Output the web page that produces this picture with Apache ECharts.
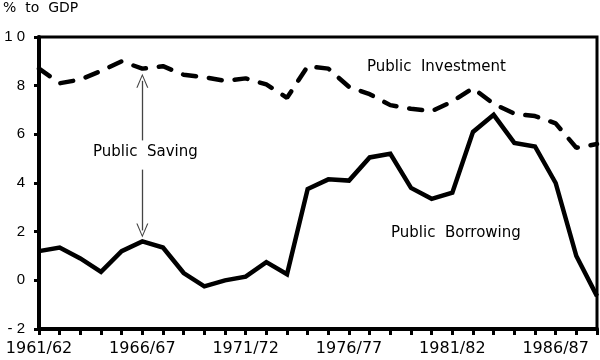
<!DOCTYPE html>
<html>
<head>
<meta charset="utf-8">
<script src="https://cdn.jsdelivr.net/npm/echarts@6/dist/echarts.min.js"></script>
<style>html,body{margin:0;padding:0;background:#fff;}#c{width:600px;height:360px;}</style>
</head>
<body>
<div id="c"></div>
<script>
var categories = ['1961/62','1962/63','1963/64','1964/65','1965/66','1966/67','1967/68','1968/69','1969/70','1970/71','1971/72','1972/73','1973/74','1974/75','1975/76','1976/77','1977/78','1978/79','1979/80','1980/81','1981/82','1982/83','1983/84','1984/85','1985/86','1986/87','1987/88','1988/89'];
var publicInvestment = [8.7, 8.1, 8.25, 8.6, 9.0, 8.7, 8.8, 8.45, 8.35, 8.2, 8.3, 8.05, 7.5, 8.8, 8.7, 7.95, 7.65, 7.2, 7.05, 6.95, 7.35, 7.9, 7.25, 6.85, 6.75, 6.45, 5.45, 5.6];
var publicBorrowing = [1.2, 1.35, 0.9, 0.35, 1.2, 1.6, 1.35, 0.3, -0.25, 0.0, 0.15, 0.75, 0.25, 3.75, 4.15, 4.1, 5.05, 5.2, 3.8, 3.35, 3.6, 6.1, 6.8, 5.65, 5.5, 4.0, 1.0, -0.65];
var yTicks = {min: -2, max: 10, interval: 2};

var chevron = 'path://M6,0 L12,14 L10.8,14 L6,2.5 L1.2,14 L0,14 Z';
var chart = echarts.init(document.getElementById('c'), null, {renderer: 'canvas'});
chart.setOption({
  animation: false,
  backgroundColor: '#fff',
  grid: {left: 36, right: 3, top: 37, bottom: 31, show: true, borderColor: '#000', borderWidth: 3},
  xAxis: {
    type: 'category', data: categories, boundaryGap: false,
    axisLine: {onZero: false, lineStyle: {color: '#000', width: 4}},
    axisTick: {show: true, interval: 0, length: 6, lineStyle: {color: '#000', width: 3}},
    axisLabel: {interval: 4, color: '#000', fontFamily: 'DejaVu Sans', fontSize: 16, margin: 12},
    splitLine: {show: false}
  },
  yAxis: {
    type: 'value', min: yTicks.min, max: yTicks.max, interval: yTicks.interval,
    name: '%  to  GDP', nameLocation: 'end', nameGap: 22,
    nameTextStyle: {color: '#000', fontFamily: 'DejaVu Sans', fontSize: 14, align: 'left', padding: [0, 0, 0, -36]},
    axisLine: {show: true, lineStyle: {color: '#000', width: 4}},
    axisTick: {show: true, length: 5, lineStyle: {color: '#000', width: 3}},
    axisLabel: {color: '#000', fontFamily: 'Liberation Sans', fontSize: 15, margin: 14,
      formatter: function (v) { return String(v).split('').join(' '); }},
    splitLine: {show: false}
  },
  series: [
    {
      name: 'Public Investment', type: 'line', data: publicInvestment, symbol: 'none',
      lineStyle: {color: '#000', width: 4.5, type: [13, 13], cap: 'round'},
      markLine: {
        silent: true, symbolSize: [12, 14],
        label: {show: false},
        lineStyle: {color: '#444', width: 1.3, type: 'solid'},
        data: [
          [{coord: [categories[5], 8.2], symbol: chevron}, {coord: [categories[5], 5.75], symbol: 'none'}],
          [{coord: [categories[5], 4.55], symbol: 'none'}, {coord: [categories[5], 2.05], symbol: chevron}]
        ]
      }
    },
    {
      name: 'Public Borrowing', type: 'line', data: publicBorrowing, symbol: 'none',
      lineStyle: {color: '#000', width: 4.5, type: 'solid', join: 'miter'}
    }
  ],
  graphic: [
    {type: 'text', left: 367, top: 60, style: {text: 'Public  Investment', fill: '#000', font: '15px "DejaVu Sans"'}},
    {type: 'text', left: 93, top: 145, style: {text: 'Public  Saving', fill: '#000', font: '15px "DejaVu Sans"'}},
    {type: 'text', left: 391, top: 226, style: {text: 'Public  Borrowing', fill: '#000', font: '15px "DejaVu Sans"'}}
  ]
});
</script>
</body>
</html>
